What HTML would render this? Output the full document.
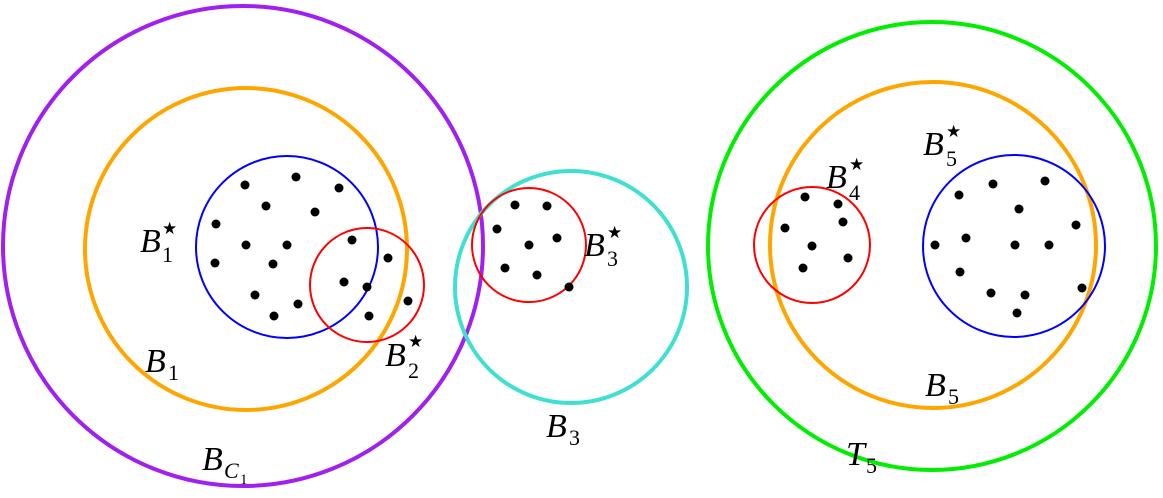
<!DOCTYPE html>
<html><head><meta charset="utf-8"><style>
html,body{margin:0;padding:0;background:#fff;}
svg text{font-family:"Liberation Serif",serif;fill:#000;}
.i{font-style:italic;}
.n{font-style:normal;font-size:22px;}
.s{font-style:normal;font-size:17px;}
</style></head><body>
<svg width="1163" height="493" viewBox="0 0 1163 493" xmlns="http://www.w3.org/2000/svg">
<g fill="none">
<circle cx="243" cy="246" r="240" stroke="#a020f0" stroke-width="4"/>
<circle cx="246" cy="249" r="161" stroke="#ffa500" stroke-width="4"/>
<circle cx="287" cy="247" r="91" stroke="#0000ff" stroke-width="2"/>
<circle cx="367" cy="285" r="57" stroke="#ff0000" stroke-width="2"/>
<circle cx="571" cy="287" r="116" stroke="#40e0d0" stroke-width="4"/>
<circle cx="529" cy="245" r="57" stroke="#ff0000" stroke-width="2"/>
<circle cx="932" cy="246" r="224" stroke="#00ee00" stroke-width="4"/>
<circle cx="933" cy="245" r="163" stroke="#ffa500" stroke-width="4"/>
<circle cx="812" cy="245" r="58" stroke="#ff0000" stroke-width="2"/>
<circle cx="1014" cy="246" r="91" stroke="#0000ff" stroke-width="2"/>
</g>
<g fill="#000">
<circle cx="245" cy="185" r="4.5"/><circle cx="296" cy="177" r="4.5"/><circle cx="339" cy="188" r="4.5"/>
<circle cx="266" cy="206" r="4.5"/><circle cx="315" cy="212" r="4.5"/><circle cx="216" cy="224" r="4.5"/>
<circle cx="246" cy="245" r="4.5"/><circle cx="287" cy="245" r="4.5"/><circle cx="352" cy="240" r="4.5"/>
<circle cx="215" cy="263" r="4.5"/><circle cx="273" cy="264" r="4.5"/><circle cx="388" cy="258" r="4.5"/>
<circle cx="344" cy="282" r="4.5"/><circle cx="367" cy="287" r="4.5"/><circle cx="255" cy="295" r="4.5"/>
<circle cx="298" cy="304" r="4.5"/><circle cx="274" cy="316" r="4.5"/><circle cx="369" cy="316" r="4.5"/>
<circle cx="408" cy="301" r="4.5"/>
<circle cx="515" cy="205" r="4.5"/><circle cx="547" cy="206" r="4.5"/><circle cx="497" cy="229" r="4.5"/>
<circle cx="529" cy="245" r="4.5"/><circle cx="557" cy="238" r="4.5"/><circle cx="505" cy="268" r="4.5"/>
<circle cx="537" cy="275" r="4.5"/><circle cx="569" cy="287" r="4.5"/>
<circle cx="805" cy="197" r="4.5"/><circle cx="838" cy="204" r="4.5"/><circle cx="785" cy="228" r="4.5"/>
<circle cx="843" cy="222" r="4.5"/><circle cx="812" cy="246" r="4.5"/><circle cx="848" cy="258" r="4.5"/>
<circle cx="803" cy="268" r="4.5"/>
<circle cx="959" cy="195" r="4.5"/><circle cx="993" cy="184" r="4.5"/><circle cx="1045" cy="181" r="4.5"/>
<circle cx="1019" cy="209" r="4.5"/><circle cx="1076" cy="225" r="4.5"/><circle cx="935" cy="245" r="4.5"/>
<circle cx="966" cy="238" r="4.5"/><circle cx="1015" cy="245" r="4.5"/><circle cx="1049" cy="245" r="4.5"/>
<circle cx="960" cy="272" r="4.5"/><circle cx="991" cy="293" r="4.5"/><circle cx="1025" cy="295" r="4.5"/>
<circle cx="1082" cy="288" r="4.5"/><circle cx="1017" cy="313" r="4.5"/>
</g>
<g font-size="34">
<text class="i" x="140" y="252">B</text><text class="n" x="162" y="262">1</text><text class="s" x="162" y="234">★</text>
<text class="i" x="145" y="372">B</text><text class="n" x="168" y="380">1</text>
<text class="i" x="385" y="366">B</text><text class="n" x="408" y="378">2</text><text class="s" x="408" y="347">★</text>
<text class="i" x="202" y="470">B</text><text class="i" x="224" y="478" style="font-size:22px">C</text><text x="240" y="484" style="font-size:15px">1</text>
<text class="i" x="584" y="256">B</text><text class="n" x="607" y="266">3</text><text class="s" x="607" y="238">★</text>
<text class="i" x="546" y="437">B</text><text class="n" x="569" y="445">3</text>
<text class="i" x="826" y="188">B</text><text class="n" x="849" y="200">4</text><text class="s" x="849" y="170">★</text>
<text class="i" x="923" y="155">B</text><text class="n" x="946" y="166">5</text><text class="s" x="946" y="137">★</text>
<text class="i" x="925" y="396">B</text><text class="n" x="948" y="404">5</text>
<text class="i" x="846" y="465">T</text><text class="n" x="866" y="473">5</text>
</g>
</svg>
</body></html>
